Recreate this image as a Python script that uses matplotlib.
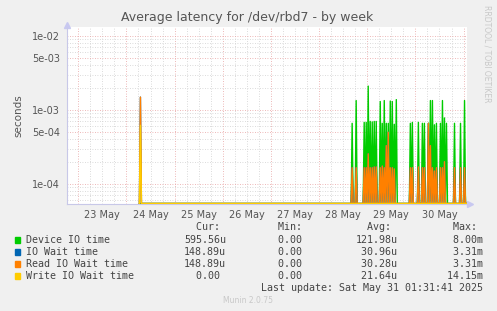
import numpy as np
import matplotlib.pyplot as plt

# sample times (decimal day of May) where latency was non-zero
spike_day = [24.29,
             28.696, 28.780, 28.940, 28.981, 29.023, 29.071, 29.112, 29.154, 29.195,
             29.272, 29.314, 29.362, 29.403, 29.445, 29.486, 29.528, 29.570, 29.611,
             29.902, 29.944, 30.069, 30.152, 30.193, 30.277, 30.318, 30.360, 30.401,
             30.443, 30.526, 30.568, 30.610, 30.651, 30.817, 30.942, 31.025]
device_io = [0,
             6.6e-4, 1.34e-3, 6.8e-4, 6.8e-4, 2.1e-3, 7.0e-4, 6.9e-4, 7.0e-4, 7.0e-4,
             1.3e-3, 6.6e-4, 1.34e-3, 6.6e-4, 6.6e-4, 1.32e-3, 1.3e-3, 6.4e-4, 1.38e-3,
             6.6e-4, 6.8e-4, 6.8e-4, 6.6e-4, 6.6e-4, 6.6e-4, 1.34e-3, 1.34e-3, 6.3e-4,
             6.6e-4, 6.6e-4, 1.34e-3, 7.8e-4, 6.6e-4, 6.6e-4, 6.6e-4, 1.34e-3]
read_wait = [1.49e-3,
             1.66e-4, 1.66e-4, 1.66e-4, 1.66e-4, 2.56e-4, 1.66e-4, 1.66e-4, 1.7e-4, 1.7e-4,
             1.66e-4, 1.75e-4, 1.66e-4, 3.3e-4, 5.0e-4, 1.66e-4, 1.66e-4, 1.6e-4, 0,
             1.66e-4, 1.66e-4, 1.7e-4, 1.66e-4, 1.66e-4, 6.6e-4, 3.3e-4, 1.66e-4, 1.5e-4,
             1.66e-4, 1.66e-4, 1.66e-4, 2.0e-4, 0, 1.66e-4, 1.66e-4, 1.66e-4]
io_wait = list(read_wait)
write_wait = [6.2e-4] + [0] * (len(spike_day) - 1)

data_start = 24.27
t_start, t_end = 22.76, 31.065
ymin, ymax = 5.45e-5, 1.32e-2

days = ['23 May', '24 May', '25 May', '26 May', '27 May', '28 May', '29 May', '30 May']
yticks = [1e-4, 5e-4, 1e-3, 5e-3, 1e-2]
ytick_labels = ['1e-04', '5e-04', '1e-03', '5e-03', '1e-02']

legend_names = ['Device IO time', 'IO Wait time', 'Read IO Wait time', 'Write IO Wait time']
colors = ['#00CC00', '#0066B3', '#FF8000', '#FFCC00']
cur = ['595.56u', '148.89u', '148.89u', '  0.00 ']
mins = ['  0.00 ', '  0.00 ', '  0.00 ', '  0.00 ']
avgs = ['121.98u', ' 30.96u', ' 30.28u', ' 21.64u']
maxs = ['  8.00m', '  3.31m', '  3.31m', ' 14.15m']

# build 30 minute series
t = np.arange(data_start, t_end, 1 / 48)
def series(vals):
    s = np.zeros(len(t))
    for d, v in zip(spike_day, vals):
        s[int(round((d - data_start) * 48))] = v
    s[s <= 0] = ymin
    return s

fig = plt.figure(figsize=(4.97, 3.11), dpi=100, facecolor='#F0F0F0')
ax = fig.add_axes([66.7 / 497, 107.5 / 311, 400 / 497, 176.5 / 311])
ax.set_facecolor('white')
ax.set_yscale('log')
ax.set_xlim(t_start, t_end)
ax.set_ylim(ymin, ymax)

# grid
for d in np.arange(22.75, t_end, 0.25):
    if d < t_start:
        continue
    major = abs(d - round(d)) < 1e-6
    ax.axvline(d, color='#e8a0a0' if major else '#cfcfcf', lw=0.6,
               ls=(0, (1, 2)), zorder=0)
for dec in [1e-5, 1e-4, 1e-3, 1e-2]:
    for m in range(1, 10):
        y = dec * m
        if ymin < y < ymax:
            ax.axhline(y, color='#e8a0a0' if m in (1, 5) else '#cfcfcf', lw=0.6,
                       ls=(0, (1, 2)), zorder=0)

for vals, c in zip([device_io, io_wait, read_wait, write_wait], colors):
    ax.plot(t, series(vals), color=c, lw=1.0, zorder=3)

for s in ['top', 'right']:
    ax.spines[s].set_visible(False)
for s in ['left', 'bottom']:
    ax.spines[s].set_color('#c8c8e8')
    ax.spines[s].set_linewidth(0.8)
ax.plot([t_start], [ymax * 1.08], marker='^', color='#c8c8f0', ms=4, clip_on=False)
ax.plot([t_end + 0.07], [ymin], marker='>', color='#c8c8f0', ms=4, clip_on=False)

ax.set_xticks([i + 23.5 for i in range(len(days))])
ax.set_xticklabels(days)
ax.set_yticks(yticks)
ax.set_yticklabels(ytick_labels)
ax.minorticks_off()
ax.tick_params(length=0, labelsize=7, colors='#555555', pad=5)
ax.set_ylabel('seconds', fontsize=7.5, color='#555555', labelpad=6)

fig.text(0.497, 1 - 18 / 311, 'Average latency for /dev/rbd7 - by week',
         ha='center', va='center', fontsize=9, color='#555555')
fig.text(487 / 497, 1 - 54 / 311, 'RRDTOOL / TOBI OETIKER', rotation=-90,
         ha='center', va='center', fontsize=5.5, color='#c8c8c8')

mono = dict(family='DejaVu Sans Mono', fontsize=7.2, color='#444444', va='center')
def fy(py):
    return 1 - py / 311
fig.text(226 / 497, fy(227.3), 'Cur: ', ha='right', **mono)
fig.text(307.5 / 497, fy(227.3), 'Min: ', ha='right', **mono)
fig.text(397.3 / 497, fy(227.3), 'Avg: ', ha='right', **mono)
fig.text(483.3 / 497, fy(227.3), 'Max: ', ha='right', **mono)
for i in range(4):
    y = 239.7 + 12 * i
    fig.patches.append(plt.Rectangle((14.7 / 497, fy(y + 3)), 5.5 / 497, 5.5 / 311,
                                     transform=fig.transFigure, color=colors[i]))
    fig.text(26.3 / 497, fy(y), legend_names[i], ha='left', **mono)
    fig.text(226 / 497, fy(y), cur[i], ha='right', **mono)
    fig.text(307.5 / 497, fy(y), mins[i], ha='right', **mono)
    fig.text(397.3 / 497, fy(y), avgs[i], ha='right', **mono)
    fig.text(483.3 / 497, fy(y), maxs[i], ha='right', **mono)
fig.text(483.3 / 497, fy(287.7), 'Last update: Sat May 31 01:31:41 2025', ha='right', **mono)
fig.text(248 / 497, fy(300.3), 'Munin 2.0.75', ha='center', va='center',
         fontsize=5.5, color='#c8c8c8')

fig.savefig('out.png', dpi=100, facecolor=fig.get_facecolor())
